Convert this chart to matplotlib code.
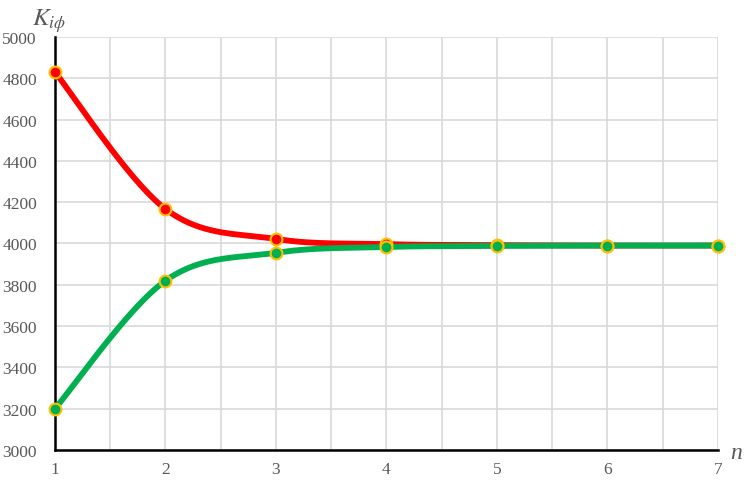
import numpy as np
import matplotlib.pyplot as plt

# data
n = [1, 2, 3, 4, 5, 6, 7]
k_upper = [4830, 4167, 4022, 3997, 3992, 3990, 3990]
k_lower = [3200, 3820, 3955, 3983, 3988, 3990, 3990]
y_ticks = [3000, 3200, 3400, 3600, 3800, 4000, 4200, 4400, 4600, 4800, 5000]


def smooth(x, y, steps=40):
    # Excel-like smoothed line: cubic bezier with control points at 1/6 of neighbour span
    x = np.asarray(x, float)
    y = np.asarray(y, float)
    px = np.concatenate([[x[0]], x, [x[-1]]])
    py = np.concatenate([[y[0]], y, [y[-1]]])
    t = np.linspace(0, 1, steps)
    xs, ys = [], []
    for i in range(len(x) - 1):
        p0 = np.array([px[i + 1], py[i + 1]])
        p3 = np.array([px[i + 2], py[i + 2]])
        c1 = p0 + (np.array([px[i + 2], py[i + 2]]) - np.array([px[i], py[i]])) / 6
        c2 = p3 - (np.array([px[i + 3], py[i + 3]]) - np.array([px[i + 1], py[i + 1]])) / 6
        b = ((1 - t) ** 3)[:, None] * p0 + (3 * (1 - t) ** 2 * t)[:, None] * c1 \
            + (3 * (1 - t) * t ** 2)[:, None] * c2 + (t ** 3)[:, None] * p3
        xs.append(b[:, 0])
        ys.append(b[:, 1])
    return np.concatenate(xs), np.concatenate(ys)


fig = plt.figure(figsize=(7.53, 4.81), dpi=100)
ax = fig.add_axes([0.073, 0.0624, 0.8805, 0.8586])

for vals, col in [(k_upper, '#FF0000'), (k_lower, '#00B050')]:
    sx, sy = smooth(n, vals)
    ax.plot(sx, sy, color=col, lw=4.2, solid_capstyle='round', zorder=3)
    ax.plot(n, vals, 'o', ms=8.5, mfc=col, mec='#FFC000', mew=1.5, zorder=6,
            clip_on=False)

ax.set_xlim(1, 7)
ax.set_ylim(3000, 5000)
ax.set_yticks(y_ticks)
ax.set_xticks(n)
ax.set_xticks(np.arange(1.5, 7, 1), minor=True)
ax.grid(True, which='both', color='#D9D9D9', lw=1.2)
ax.set_axisbelow(True)

for s in ['top', 'right']:
    ax.spines[s].set_visible(False)
for s in ['left', 'bottom']:
    ax.spines[s].set_color('black')
    ax.spines[s].set_linewidth(1.8)
    ax.spines[s].set_zorder(5)

ax.tick_params(which='both', length=0)
ax.tick_params(axis='y', pad=13, labelsize=12.5, labelcolor='#595959')
ax.tick_params(axis='x', pad=8, labelsize=12.5, labelcolor='#595959')
for lab in ax.get_xticklabels() + ax.get_yticklabels():
    lab.set_fontfamily('Liberation Serif')

fig.text(0.043, 0.985, r'$K_{i\phi}$', fontsize=18, color='#595959', va='top',
         fontfamily='Liberation Serif', math_fontfamily='stix')
fig.text(0.978, 0.058, 'n', fontsize=17, color='#595959', style='italic',
         fontfamily='Liberation Serif', ha='center', va='center')

fig.savefig('out.png', dpi=100)
